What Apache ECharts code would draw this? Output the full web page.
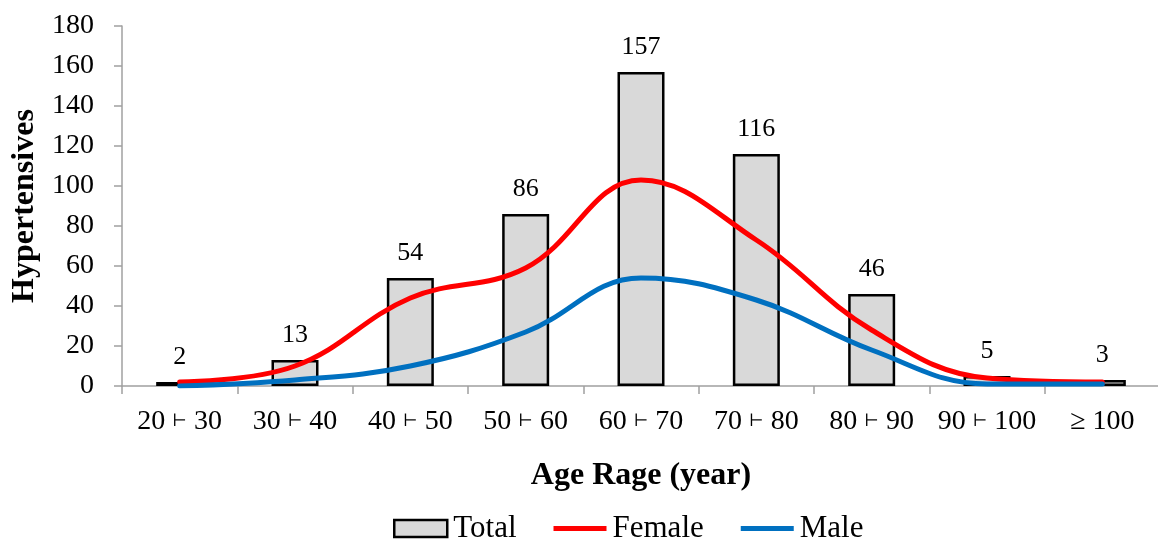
<!DOCTYPE html>
<html>
<head>
<meta charset="utf-8">
<script src="https://cdn.jsdelivr.net/npm/echarts@6/dist/echarts.min.js"></script>
<style>html,body{margin:0;padding:0;background:#fff;}#c{width:1158px;height:540px;}</style>
</head>
<body>
<div id="c"></div>
<script>
var categories = ['20 ⊢ 30','30 ⊢ 40','40 ⊢ 50','50 ⊢ 60','60 ⊢ 70','70 ⊢ 80','80 ⊢ 90','90 ⊢ 100','≥ 100'];
var total = [2, 13, 54, 86, 157, 116, 46, 5, 3];
var female = [2, 10, 44, 59, 103, 73, 28, 4, 2];
var male = [0, 3, 10, 27, 54, 43, 18, 1, 1];
var yTicks = {min: 0, max: 180, interval: 20};

var font = '"Liberation Serif", "Times New Roman", serif';
var lineIcon = 'path://M0,0H55V5H0Z';
var chart = echarts.init(document.getElementById('c'));
chart.setOption({
  animation: false,
  backgroundColor: '#fff',
  textStyle: {fontFamily: font, color: '#000'},
  grid: {left: 122, top: 26, width: 1038, height: 360, containLabel: false, outerBoundsMode: 'none'},
  legend: {
    top: 508, left: 388, itemGap: 37, itemWidth: 53, itemHeight: 17,
    textStyle: {fontFamily: font, fontSize: 31, color: '#000', padding: [0,0,0,1]},
    data: [
      {name: 'Total', icon: 'rect', itemStyle: {color: '#D9D9D9', borderColor: '#000', borderWidth: 2.5}},
      {name: 'Female', icon: lineIcon},
      {name: 'Male', icon: lineIcon}
    ]
  },
  xAxis: {
    type: 'category', data: categories,
    name: 'Age Rage (year)', nameLocation: 'middle', nameGap: 74,
    nameTextStyle: {fontFamily: font, fontSize: 32, fontWeight: 'bold', color: '#000'},
    axisLine: {lineStyle: {color: '#A0A0A0', width: 1.5}},
    axisTick: {show: true, length: 8, alignWithLabel: false, lineStyle: {color: '#A0A0A0', width: 1.5}},
    axisLabel: {
      fontFamily: font, fontSize: 28, lineHeight: 28, color: '#000', margin: 22, interval: 0,
      formatter: function (v) {
        var p = v.split('⊢');
        return p.length === 2 ? p[0] + '{s|⊢}' + p[1] : v;
      },
      rich: {s: {fontFamily: '"DejaVu Serif", "DejaVu Sans"', fontSize: 17, lineHeight: 28, color: '#000', verticalAlign: 'middle'}}
    }
  },
  yAxis: {
    type: 'value', min: yTicks.min, max: yTicks.max, interval: yTicks.interval,
    name: 'Hypertensives', nameLocation: 'middle', nameGap: 80,
    nameTextStyle: {fontFamily: font, fontSize: 32, fontWeight: 'bold', color: '#000'},
    axisLine: {show: true, lineStyle: {color: '#A0A0A0', width: 1.5}},
    axisTick: {show: true, length: 8, lineStyle: {color: '#A0A0A0', width: 1.5}},
    splitLine: {show: false},
    axisLabel: {fontFamily: font, fontSize: 28, color: '#000', margin: 28}
  },
  series: [
    {
      name: 'Total', type: 'bar', data: total, barWidth: 47,
      itemStyle: {color: '#D9D9D9', borderColor: '#000', borderWidth: 2.5},
      label: {show: true, position: 'top', distance: 12, fontFamily: font, fontSize: 26, color: '#000'}
    },
    {
      name: 'Female', type: 'line', data: female, smooth: 0.4, symbol: 'none',
      lineStyle: {color: '#FF0000', width: 5, cap: 'round'}, itemStyle: {color: '#FF0000'}
    },
    {
      name: 'Male', type: 'line', data: male, smooth: 0.4, symbol: 'none',
      lineStyle: {color: '#0070C0', width: 5, cap: 'round'}, itemStyle: {color: '#0070C0'}
    }
  ]
});
</script>
</body>
</html>
